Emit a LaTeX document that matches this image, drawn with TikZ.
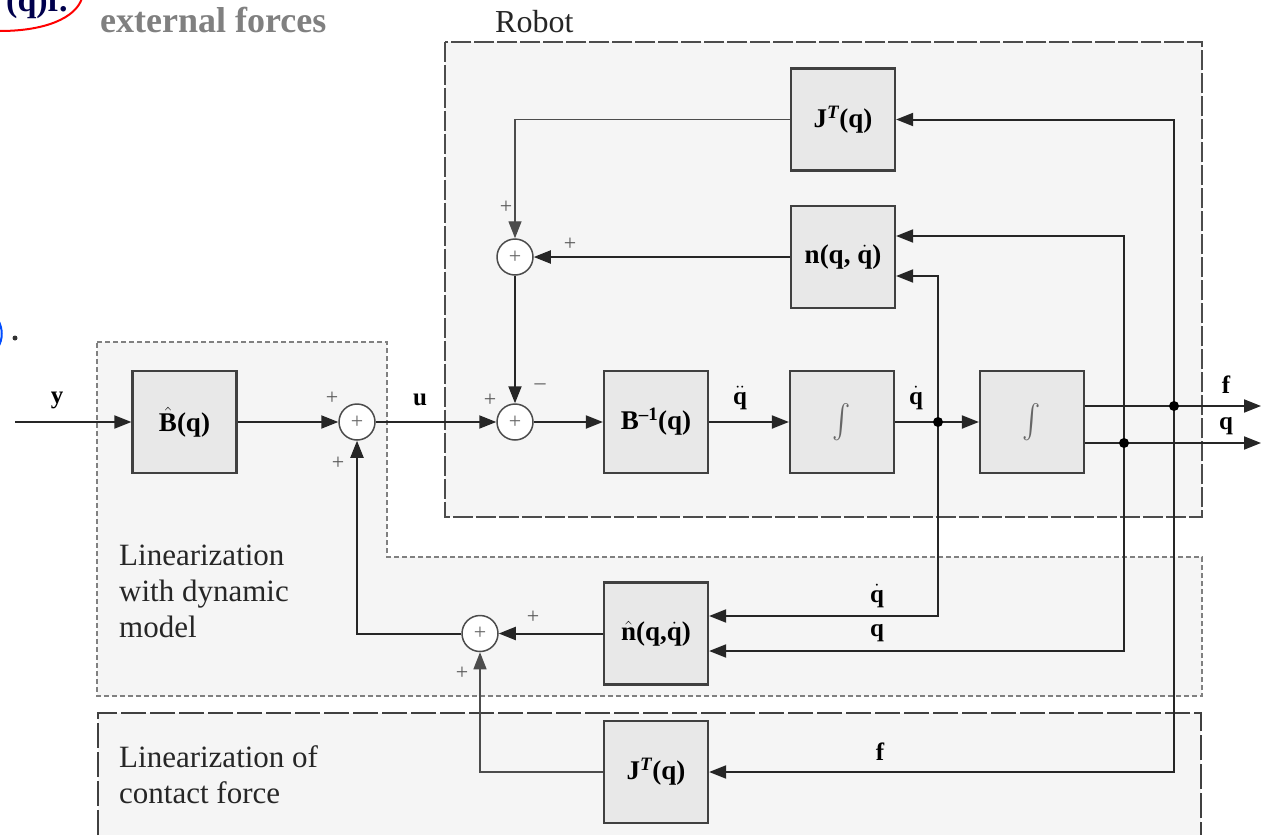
\documentclass[tikz,border=0pt]{standalone}
\usepackage{exscale}
\usepackage{fontspec}
\setmainfont{Liberation Serif}
\usetikzlibrary{arrows.meta,calc}
\newcommand\qd{$\dot{\mbox{q}}$}
\newcommand\qdd{$\ddot{\mbox{q}}$}
\newcommand\bigint{\scalebox{1.1}[1.35]{$\int$}}
\begin{document}
\begin{tikzpicture}[x=1pt,y=-1pt,
  blk/.style={draw=black!75, line width=2.2pt, fill=black!9, minimum width=104pt, minimum height=102pt, inner sep=0pt, font=\fontsize{27}{30}\selectfont\bfseries},
  sumc/.style={circle, draw=black!70, line width=1.5pt, fill=white, minimum size=36pt, inner sep=0pt, font=\fontsize{22}{22}\selectfont, text=black!60},
  sig/.style={line width=2pt, draw=black!85},
  thin/.style={line width=1.4pt, draw=black!70},
  tip/.style={-{Triangle[length=17pt,width=13pt]}},
  lab/.style={font=\fontsize{25}{25}\selectfont\bfseries, inner sep=0pt},
  pl/.style={font=\fontsize{22}{22}\selectfont, text=black!65, inner sep=0pt},
  grp/.style={font=\fontsize{31}{36}\selectfont, align=left, inner sep=0pt, anchor=base west, text=black!85},
  integ/.style={font=\fontsize{38}{38}\selectfont\mdseries, text=black!60},
  dot/.style={fill=black}
]
\useasboundingbox (0,0) rectangle (1263,835);
% group boxes
\filldraw[fill=black!4, draw=black!70, line width=2pt, dash pattern=on 20pt off 3pt] (445,42) rectangle (1202,517);
\filldraw[fill=black!4, draw=black!50, line width=1.8pt, dash pattern=on 5pt off 3pt] (97,342) -- (387,342) -- (387,557) -- (1202,557) -- (1202,696) -- (97,696) -- cycle;
\fill[black!4] (98,713) rectangle (1201,835);
\draw[draw=black!75, line width=2pt, dash pattern=on 25pt off 4pt] (98,835) -- (98,713) -- (1201,713) -- (1201,835);

% remnants at the edges
\node[anchor=base west, inner sep=0pt, font=\fontsize{34}{34}\selectfont\bfseries, text=blue!30!black] (rem) at (6,12) {(q)f.};
\draw[red, line width=2pt] (0,31) .. controls (45,31) and (76,18) .. (82,-2);
\draw[blue!70!cyan, line width=2pt] (-2,320) .. controls (3,328) and (3,340) .. (-2,347);
\fill[black!80] (15,338) circle (2.5);
\node[anchor=base west, inner sep=0pt, font=\fontsize{36}{36}\selectfont\bfseries, text=black!50] (ext) at (100,32) {external forces};
\node[anchor=base west, inner sep=0pt, font=\fontsize{32}{32}\selectfont, text=black!85] (rob) at (495,32) {Robot};
\node[grp] (g1) at (119,637) {Linearization\\with dynamic\\model};
\node[grp] (g2) at (119,803) {Linearization of\\contact force};

% blocks
\node[blk] (Bh) at (184.5,422) {$\hat{\mbox{B}}$(q)};
\node[blk] (Binv) at (656,422) {B\textsuperscript{–1}(q)};
\node[blk, integ] (I1) at (842,422) {\bigint};
\node[blk, integ] (I2) at (1032,422) {\bigint};
\node[blk] (JT) at (843,119.5) {J\textsuperscript{\itshape T}(q)};
\node[blk] (N) at (843,257) {n(q, \qd)};
\node[blk] (Nh) at (656,633.5) {$\hat{\mbox{n}}$(q,\qd)};
\node[blk] (JT2) at (656,772) {J\textsuperscript{\itshape T}(q)};

\node[sumc] (s1) at (357,422) {+};
\node[sumc] (s2) at (515,422) {+};
\node[sumc] (s3) at (515,257) {+};
\node[sumc] (s4) at (480,633.5) {+};

\coordinate (yin) at (15,422);
\coordinate (jd) at (938,422);
\coordinate (jq) at (1124,443);
\coordinate (jf) at (1174,406);
\coordinate (of) at (1261,406);
\coordinate (oq) at (1261,443);

% forward path
\draw[sig,tip] (yin) -- (Bh);
\draw[sig,tip] (Bh) -- (s1);
\draw[sig,tip] (s1) -- (s2);
\draw[sig,tip] (s2) -- (Binv);
\draw[sig,tip] (Binv) -- (I1);
\draw[sig,tip] (I1) -- (I2);
\draw[sig,tip] (I2.east |- jf) -- (of);
\draw[sig,tip] (I2.east |- jq) -- (oq);

% feedbacks
\draw[sig,tip] (jf) |- (JT.east);
\draw[sig,tip] (jf) |- (JT2.east);
\draw[sig,tip] (jq) |- ([yshift=21pt]N.east);
\draw[sig,tip] (jq) |- ([yshift=-17.5pt]Nh.east);
\draw[sig,tip] (jd) |- ([yshift=-19pt]N.east);
\draw[sig,tip] (jd) |- ([yshift=17.5pt]Nh.east);
\draw[sig,tip] (N) -- (s3);
\draw[thin,tip] (JT) -| (s3);
\draw[sig,tip] (s3) -- (s2);
\draw[sig,tip] (Nh) -- (s4);
\draw[sig,tip] (s4) -| (s1);
\draw[thin,tip] (JT2) -| (s4);

\fill[dot] (jd) circle (5);
\fill[dot] (jq) circle (5);
\fill[dot] (jf) circle (5);

% signal labels
\node[lab] (ly) at (57,400) {y};
\node[lab] (lu) at (420,400) {u};
\node[lab] (lqdd) at (740,398) {\qdd};
\node[lab] (lqd) at (916,398) {\qd};
\node[lab] (lf) at (1226,385) {f};
\node[lab] (lq) at (1226,426) {q};
\node[lab] (lqd2) at (877,596) {\qd};
\node[lab] (lq2) at (877,633) {q};
\node[lab] (lf2) at (880,752) {f};

% signs
\node[pl] at (332,398) {+};
\node[pl] at (338,463) {+};
\node[pl] at (490,400) {+};
\node[pl] at (540,387) {–};
\node[pl] at (506,207) {+};
\node[pl] at (570,244) {+};
\node[pl] at (533,617) {+};
\node[pl] at (462,673) {+};
\end{tikzpicture}
\end{document}
